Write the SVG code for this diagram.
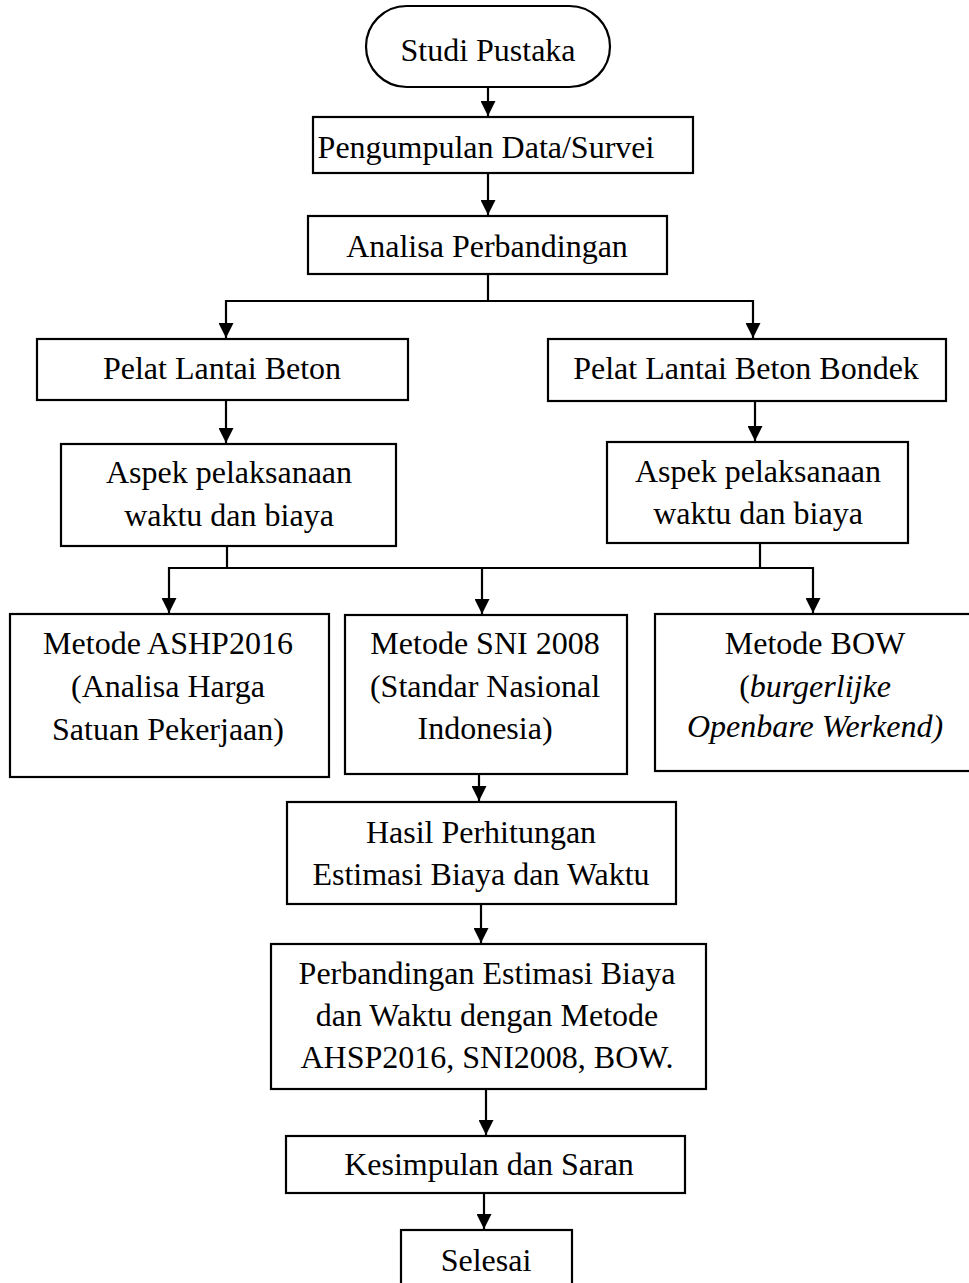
<svg xmlns="http://www.w3.org/2000/svg" width="969" height="1283" viewBox="0 0 969 1283">
<style>
.box{fill:#fff;stroke:#000;stroke-width:2.2}
.t{font-family:"Liberation Serif","Times New Roman",serif;font-size:32px;fill:#000;text-anchor:middle}
.i{font-style:italic}
.c{fill:none;stroke:#000;stroke-width:2.2}
</style>
<defs>
<marker id="ah" viewBox="0 0 10 10" markerWidth="15" markerHeight="15" markerUnits="userSpaceOnUse" refX="10" refY="5" orient="auto">
<path d="M0,0 L10,5 L0,10 z" fill="#000"/>
</marker>
</defs>
<rect width="969" height="1283" fill="#fff"/>
<g id="connectors">
<line class="c" x1="488" y1="87" x2="488" y2="116" marker-end="url(#ah)"/>
<line class="c" x1="488" y1="173" x2="488" y2="215" marker-end="url(#ah)"/>
<polyline class="c" points="488,274 488,301"/>
<polyline class="c" points="226,301 753,301"/>
<line class="c" x1="226" y1="300" x2="226" y2="338" marker-end="url(#ah)"/>
<line class="c" x1="753" y1="300" x2="753" y2="338" marker-end="url(#ah)"/>
<line class="c" x1="226" y1="400" x2="226" y2="443" marker-end="url(#ah)"/>
<line class="c" x1="755" y1="401" x2="755" y2="441" marker-end="url(#ah)"/>
<polyline class="c" points="227,546 227,568"/>
<polyline class="c" points="760,543 760,568"/>
<polyline class="c" points="169,568 813,568"/>
<line class="c" x1="169" y1="567" x2="169" y2="613" marker-end="url(#ah)"/>
<line class="c" x1="482" y1="567" x2="482" y2="614" marker-end="url(#ah)"/>
<line class="c" x1="813" y1="567" x2="813" y2="613" marker-end="url(#ah)"/>
<line class="c" x1="479" y1="774" x2="479" y2="801" marker-end="url(#ah)"/>
<line class="c" x1="481" y1="904" x2="481" y2="943" marker-end="url(#ah)"/>
<line class="c" x1="486" y1="1089" x2="486" y2="1135" marker-end="url(#ah)"/>
<line class="c" x1="484" y1="1193" x2="484" y2="1229" marker-end="url(#ah)"/>
</g>
<g id="n1"><rect class="box" x="366" y="6" width="244" height="81" rx="40.5" ry="40.5"/><text class="t" x="488" y="61">Studi Pustaka</text></g>
<g id="n2"><rect class="box" x="313" y="117" width="380" height="56"/><text class="t" x="486" y="158">Pengumpulan Data/Survei</text></g>
<g id="n3"><rect class="box" x="308" y="216" width="359" height="58"/><text class="t" x="487" y="257">Analisa Perbandingan</text></g>
<g id="n4"><rect class="box" x="37" y="339" width="371" height="61"/><text class="t" x="222" y="379">Pelat Lantai Beton</text></g>
<g id="n5"><rect class="box" x="548" y="339" width="398" height="62"/><text class="t" x="746" y="379">Pelat Lantai Beton Bondek</text></g>
<g id="n6"><rect class="box" x="61" y="444" width="335" height="102"/><text class="t" x="229" y="483">Aspek pelaksanaan</text><text class="t" x="229" y="526">waktu dan biaya</text></g>
<g id="n7"><rect class="box" x="607" y="442" width="301" height="101"/><text class="t" x="758" y="482">Aspek pelaksanaan</text><text class="t" x="758" y="524">waktu dan biaya</text></g>
<g id="n8"><rect class="box" x="10" y="614" width="319" height="163"/><text class="t" x="168" y="654">Metode ASHP2016</text><text class="t" x="168" y="697">(Analisa Harga</text><text class="t" x="168" y="740">Satuan Pekerjaan)</text></g>
<g id="n9"><rect class="box" x="345" y="615" width="282" height="159"/><text class="t" x="485" y="654">Metode SNI 2008</text><text class="t" x="485" y="697">(Standar Nasional</text><text class="t" x="485" y="739">Indonesia)</text></g>
<g id="n10"><rect class="box" x="655" y="614" width="320" height="157"/><text class="t" x="815" y="654">Metode BOW</text><text class="t" x="815" y="697">(<tspan class="i">burgerlijke</tspan></text><text class="t i" x="815" y="737">Openbare Werkend)</text></g>
<g id="n11"><rect class="box" x="287" y="802" width="389" height="102"/><text class="t" x="481" y="843">Hasil Perhitungan</text><text class="t" x="481" y="885">Estimasi Biaya dan Waktu</text></g>
<g id="n12"><rect class="box" x="271" y="944" width="435" height="145"/><text class="t" x="487" y="984">Perbandingan Estimasi Biaya</text><text class="t" x="487" y="1026">dan Waktu dengan Metode</text><text class="t" x="487" y="1068">AHSP2016, SNI2008, BOW.</text></g>
<g id="n13"><rect class="box" x="286" y="1136" width="399" height="57"/><text class="t" x="489" y="1175">Kesimpulan dan Saran</text></g>
<g id="n14"><rect class="box" x="401" y="1230" width="171" height="70"/><text class="t" x="486" y="1271">Selesai</text></g>
</svg>
